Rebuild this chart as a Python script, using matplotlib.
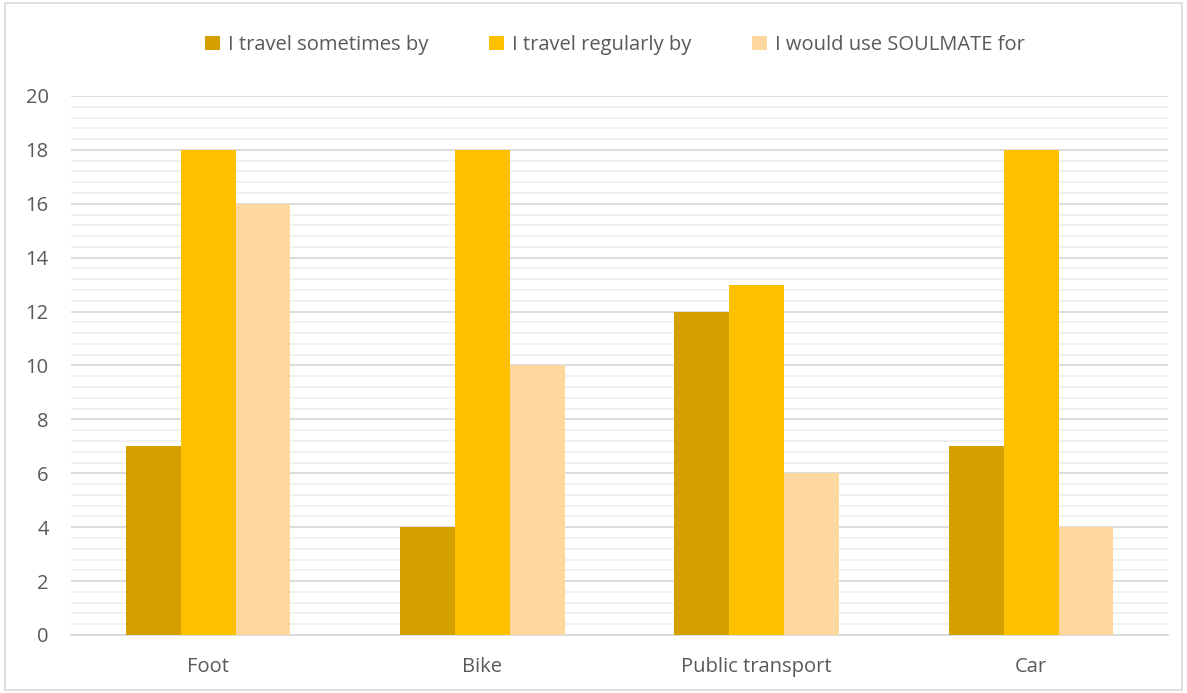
import numpy as np
import matplotlib.pyplot as plt
from matplotlib.patches import Rectangle
from matplotlib.ticker import MultipleLocator

categories = ['Foot', 'Bike', 'Public transport', 'Car']
series_names = ['I travel sometimes by', 'I travel regularly by', 'I would use SOULMATE for']
sometimes = [7, 4, 12, 7]
regularly = [18, 18, 13, 18]
soulmate = [16, 10, 6, 4]
colors = ['#D4A000', '#FFC000', '#FFD8A0']

plt.rcParams['font.family'] = ['Open Sans', 'DejaVu Sans']

fig = plt.figure(figsize=(11.87, 6.93), dpi=100)
ax = fig.add_axes([0.0598, 0.0837, 0.9244, 0.7778])

x = np.arange(len(categories))
w = 0.2
for i, (vals, name) in enumerate(zip([sometimes, regularly, soulmate], series_names)):
    ax.bar(x + (i - 1) * w, vals, width=w, color=colors[i], label=name, zorder=3)

ax.set_xlim(-0.5, len(categories) - 0.5)
ax.set_ylim(0, 20)
ax.yaxis.set_major_locator(MultipleLocator(2))
ax.yaxis.set_minor_locator(MultipleLocator(0.4))
ax.grid(axis='y', which='major', color='#D9D9D9', linewidth=1.3, zorder=0)
ax.grid(axis='y', which='minor', color='#F0F0F0', linewidth=1.3, zorder=0)
ax.set_xticks(x)
ax.set_xticklabels(categories)
ax.tick_params(axis='both', which='both', length=0, labelsize=14.5, colors='#595959')
ax.tick_params(axis='x', pad=16)
ax.tick_params(axis='y', pad=16)
for s in ['top', 'right', 'left']:
    ax.spines[s].set_visible(False)
ax.spines['bottom'].set_color('#D9D9D9')
ax.spines['bottom'].set_linewidth(1.3)

leg = fig.legend(loc='center', bbox_to_anchor=(0.518, 0.935), ncol=3, frameon=False,
                 fontsize=14.5, handlelength=0.75, handleheight=0.75, handletextpad=0.4,
                 columnspacing=3.0)
for t in leg.get_texts():
    t.set_color('#595959')

fig.patches.append(Rectangle((0.004, 0.004), 0.992, 0.992, transform=fig.transFigure,
                             fill=False, edgecolor='#D9D9D9', linewidth=1.2))

fig.savefig('out.png', dpi=100, facecolor='white')
